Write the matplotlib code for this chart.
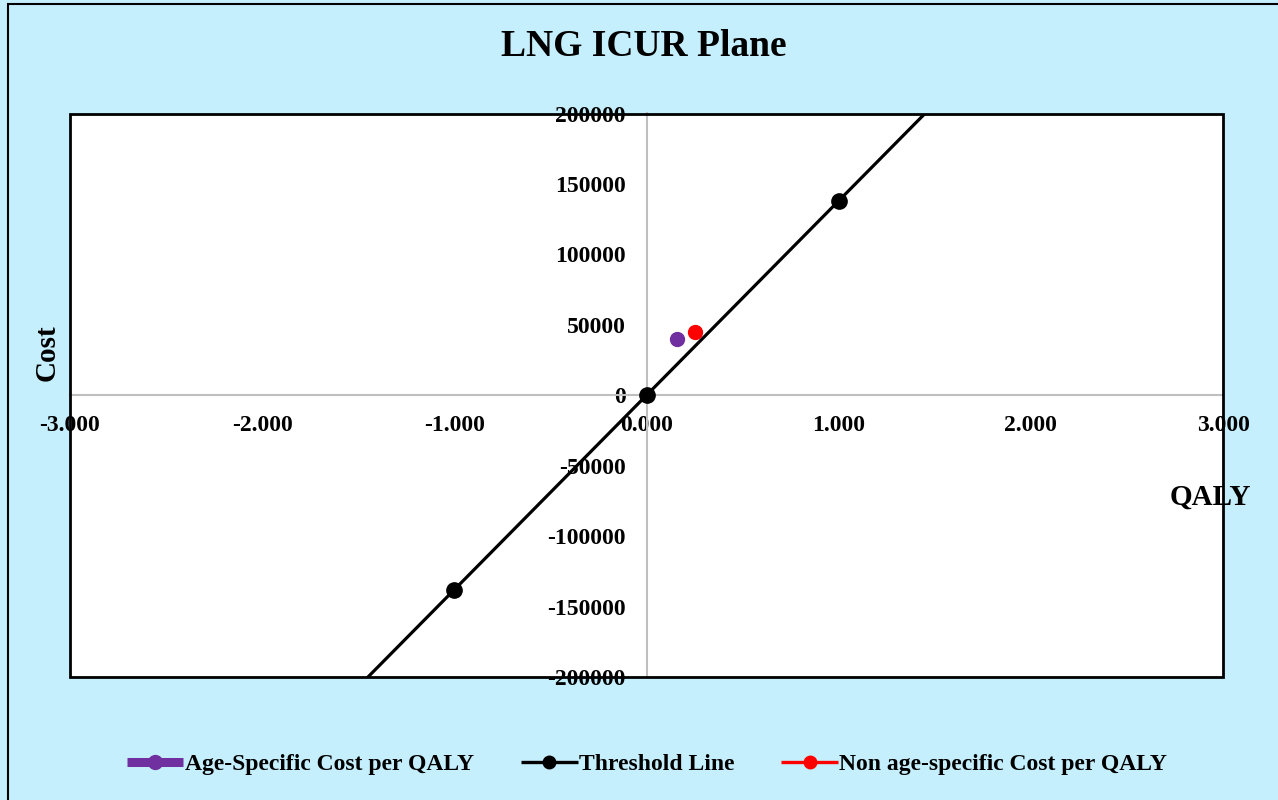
import matplotlib
matplotlib.use("Agg")
import matplotlib.pyplot as plt
from matplotlib.lines import Line2D
from matplotlib.patches import Rectangle
from matplotlib.ticker import FuncFormatter

# ---- data ----
age_specific_qaly = [0.16]
age_specific_cost = [40000]
non_age_qaly = [0.25]
non_age_cost = [45000]
threshold_qaly = [-2, -1, 0, 1, 2]
threshold_cost = [-276000, -138000, 0, 138000, 276000]

x_ticks = [-3, -2, -1, 0, 1, 2, 3]
y_ticks = [-200000, -150000, -100000, -50000, 0, 50000, 100000, 150000, 200000]

title = "LNG ICUR Plane"
x_label = "QALY"
y_label = "Cost"
series_names = ["Age-Specific Cost per QALY", "Threshold Line", "Non age-specific Cost per QALY"]

# ---- style ----
BG = "#C6EFFD"
PURPLE = "#7030A0"
RED = "#FF0000"
GRID = "#BFBFBF"
plt.rcParams["font.family"] = ["Liberation Serif", "DejaVu Serif"]
plt.rcParams["font.weight"] = "bold"

W, H = 1278, 800
fig = plt.figure(figsize=(W / 100, H / 100), dpi=100, facecolor=BG)

# outer frame of the chart area
fig.patches.append(Rectangle((8 / W, -0.1), 1.2, 1.1 - 4 / H, transform=fig.transFigure,
                             fill=False, edgecolor="black", linewidth=1.5, zorder=0))

ax = fig.add_axes([70 / W, 1 - 677 / H, (1223 - 70) / W, (677 - 113.5) / H])
ax.set_facecolor("white")
ax.set_xlim(-3, 3)
ax.set_ylim(-200000, 200000)

# axes cross at the origin
ax.spines["left"].set_position(("data", 0))
ax.spines["bottom"].set_position(("data", 0))
ax.spines["left"].set_color(GRID)
ax.spines["bottom"].set_color(GRID)
ax.spines["left"].set_linewidth(1.5)
ax.spines["bottom"].set_linewidth(1.5)
ax.spines["top"].set_visible(False)
ax.spines["right"].set_visible(False)
ax.add_patch(Rectangle((0, 0), 1, 1, transform=ax.transAxes, fill=False,
                       edgecolor="black", linewidth=2, zorder=5, clip_on=False))

ax.set_xticks(x_ticks)
ax.set_yticks(y_ticks)
ax.xaxis.set_major_formatter(FuncFormatter(lambda v, p: f"{v:.3f}"))
ax.yaxis.set_major_formatter(FuncFormatter(lambda v, p: f"{int(v)}"))
ax.tick_params(axis="both", length=0, labelsize=17, colors="black")
ax.tick_params(axis="x", pad=14)
ax.tick_params(axis="y", pad=15)
for lbl in ax.get_xticklabels() + ax.get_yticklabels():
    lbl.set_fontweight("bold")

# series
ax.plot(threshold_qaly, threshold_cost, color="black", linewidth=2.3, marker="o",
        markersize=11, zorder=3)
ax.plot(age_specific_qaly, age_specific_cost, linestyle="none", marker="o",
        color=PURPLE, markersize=10, zorder=4)
ax.plot(non_age_qaly, non_age_cost, linestyle="none", marker="o",
        color=RED, markersize=10, zorder=4)

# texts
fig.text(644 / W, 1 - 47 / H, title, ha="center", va="center", fontsize=27, fontweight="bold")
fig.text(1210 / W, 1 - 497 / H, x_label, ha="center", va="center", fontsize=21, fontweight="bold")
fig.text(47 / W, 1 - 353 / H, y_label, ha="center", va="center", rotation=90,
         fontsize=21, fontweight="bold")

handles = [
    Line2D([], [], color=PURPLE, linewidth=6.5, marker="o", markersize=10, solid_capstyle="butt"),
    Line2D([], [], color="black", linewidth=2.4, marker="o", markersize=9, solid_capstyle="butt"),
    Line2D([], [], color=RED, linewidth=2.4, marker="o", markersize=9, solid_capstyle="butt"),
]
leg = fig.legend(handles, series_names, loc="center", bbox_to_anchor=(647 / W, 1 - 764 / H),
                 ncol=3, frameon=False, handlelength=2.4, handletextpad=0.05,
                 columnspacing=2.0, prop={"size": 17, "weight": "bold"})

fig.savefig("out.png", dpi=100, facecolor=BG)
